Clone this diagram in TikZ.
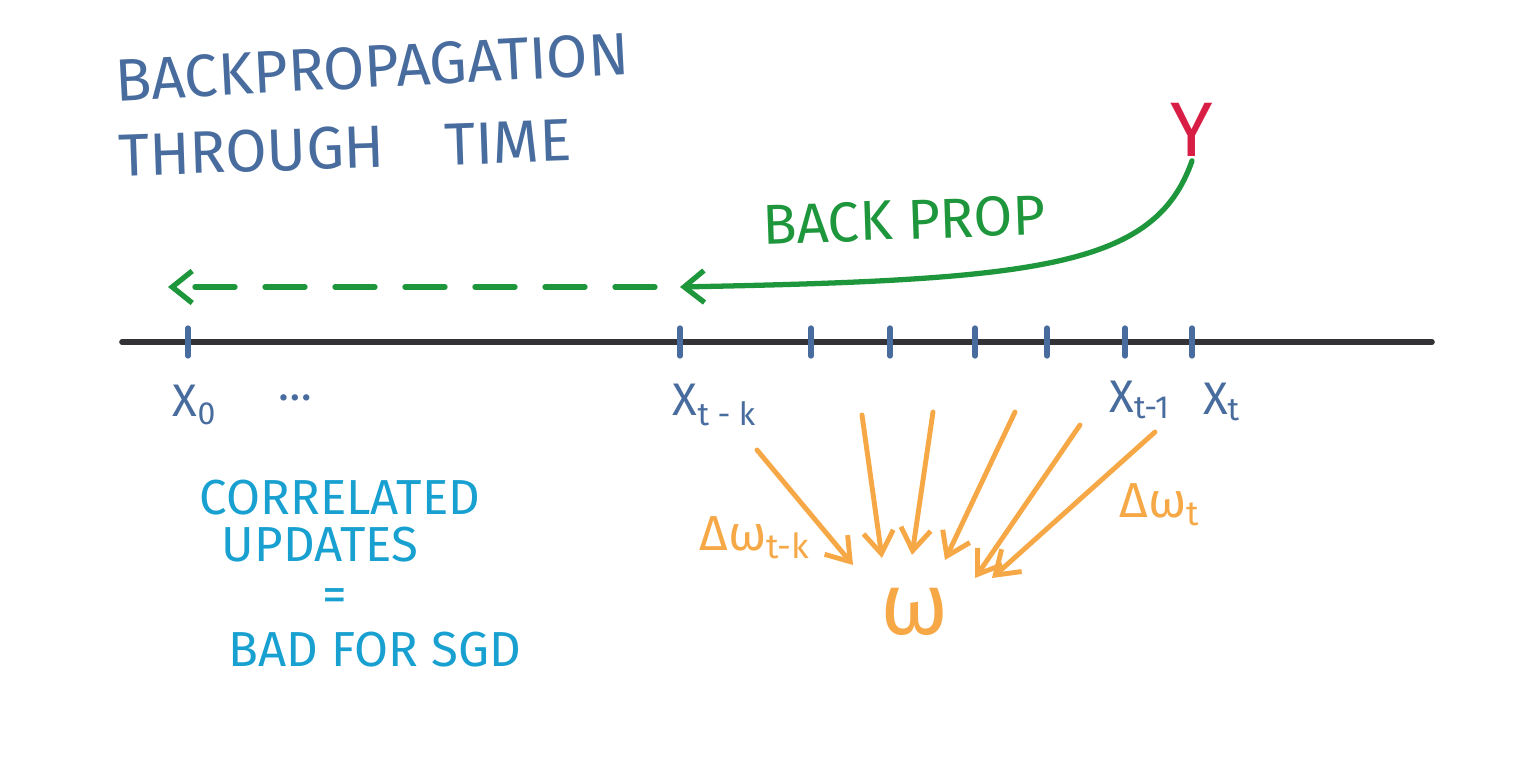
\documentclass[tikz,border=0pt]{standalone}
\usepackage{fontspec}
\setmainfont{Fira Sans}
\usepackage{tikz}
\usetikzlibrary{positioning,arrows.meta,calc}
\usepackage{xcolor}
\definecolor{inkblue}{RGB}{72,108,158}
\definecolor{inkred}{RGB}{216,30,68}
\definecolor{inkgreen}{RGB}{30,150,60}
\definecolor{inkorange}{RGB}{246,168,70}
\definecolor{inkcyan}{RGB}{24,160,208}
\definecolor{inkaxis}{RGB}{50,50,55}
\tikzset{
  titletext/.style={text=inkblue, font=\fontsize{17}{19}\selectfont, inner sep=0pt},
  ticklabel/.style={text=inkblue, font=\fontsize{13}{15}\selectfont, inner sep=0pt},
  notetext/.style={text=inkcyan, font=\fontsize{14}{16}\selectfont, inner sep=0pt},
  weightlabel/.style={text=inkorange, font=\fontsize{14}{16}\selectfont, inner sep=0pt},
  axisline/.style={draw=inkaxis, line width=1.6pt, line cap=round},
  tickmark/.style={draw=inkblue, line width=1.5pt, line cap=round},
  backarrow/.style={draw=inkgreen, line width=1.5pt, line cap=round,
    -{Straight Barb[length=2mm,width=3.2mm]}},
  updatearrow/.style={draw=inkorange, line width=1.4pt, line cap=round,
    -{Straight Barb[length=2.2mm,width=3mm]}}
}
\begin{document}
\begin{tikzpicture}
  \useasboundingbox (0,0) rectangle (15.15,7.62);

  % title
  \node[titletext, rotate=3] (title1) at (3.72,6.95) {BACKPROPAGATION};
  \node[titletext, rotate=2] (title2) at (3.45,6.14) {THROUGH\quad TIME};

  % time axis
  \coordinate (axL) at (1.22,4.20);
  \coordinate (axR) at (14.32,4.20);
  \draw[axisline] (axL) -- (axR);
  \foreach \x in {1.88,6.80,8.11,8.90,9.75,10.47,11.25,11.92}
    \draw[tickmark] (\x,4.06) -- (\x,4.34);

  \node[ticklabel] (x0) at (1.95,3.57) {X\textsubscript{0}};
  \node[ticklabel] (dots) at (2.95,3.64) {\dots};
  \node[ticklabel] (xtk) at (7.15,3.57) {X\textsubscript{t - k}};
  \node[ticklabel] (xt1) at (11.40,3.62) {X\textsubscript{t-1}};
  \node[ticklabel] (xt) at (12.22,3.60) {X\textsubscript{t}};

  % target and back prop
  \node[text=inkred, font=\fontsize{22}{24}\selectfont, inner sep=1pt] (y) at (11.92,6.32) {Y};
  \node[text=inkgreen, font=\fontsize{16}{18}\selectfont, rotate=2] (bp) at (9.04,5.42) {BACK PROP};
  \coordinate (bpend) at (6.80,4.75);
  \coordinate (bpdash) at (6.55,4.75);
  \coordinate (bpleft) at (1.68,4.75);
  \draw[backarrow] (y.south) .. controls (11.55,4.95) and (10.4,4.82) .. (bpend);
  \draw[backarrow, dashed, dash pattern=on 4mm off 3mm] (bpdash) -- (bpleft);

  % weight updates
  \node[text=inkorange, font=\fontsize{25}{27}\selectfont, inner sep=1pt] (w) at (9.15,1.50) {ω};
  \node[weightlabel] (dwtk) at (7.55,2.24) {Δω\textsubscript{t-k}};
  \node[weightlabel] (dwt) at (11.60,2.57) {Δω\textsubscript{t}};

  \foreach \i/\sx/\sy/\ex/\ey in {1/7.57/3.12/8.53/1.97, 2/8.62/3.47/8.82/2.04,
      3/9.33/3.50/9.12/2.07, 4/10.15/3.50/9.45/2.02,
      5/10.80/3.37/9.75/1.84, 6/11.55/3.30/9.92/1.84} {
    \coordinate (s\i) at (\sx,\sy);
    \coordinate (e\i) at (\ex,\ey);
    \draw[updatearrow] (s\i) -- (e\i);
  }

  % note
  \node[notetext] (n1) at (3.40,2.64) {CORRELATED};
  \node[notetext] (n2) at (3.20,2.17) {UPDATES};
  \node[notetext] (n3) at (3.35,1.62) {=};
  \node[notetext] (n4) at (3.75,1.12) {BAD FOR SGD};
\end{tikzpicture}
\end{document}
